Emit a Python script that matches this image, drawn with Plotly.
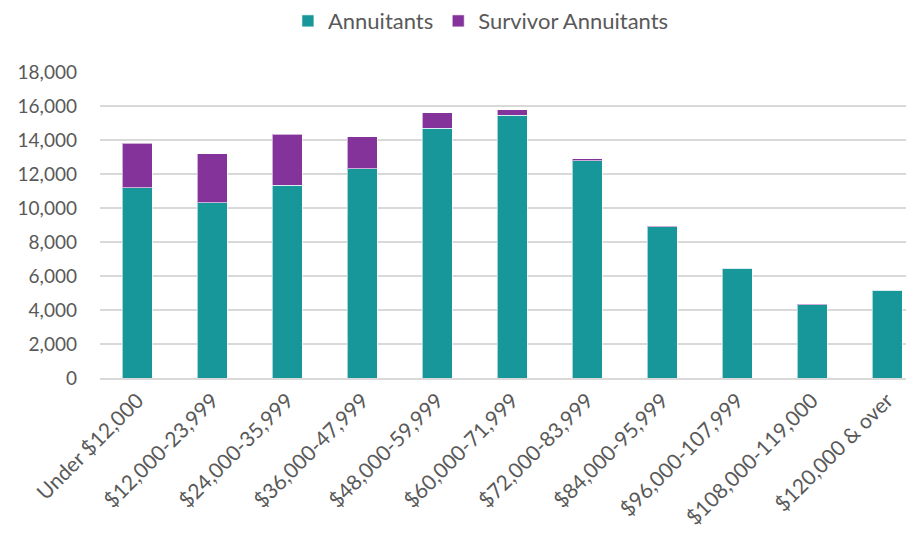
import plotly.graph_objects as go

categories = ["Under $12,000", "$12,000-23,999", "$24,000-35,999", "$36,000-47,999",
              "$48,000-59,999", "$60,000-71,999", "$72,000-83,999", "$84,000-95,999",
              "$96,000-107,999", "$108,000-119,000", "$120,000 & over"]
annuitants = [11200, 10300, 11350, 12300, 14700, 15450, 12780, 8900, 6470, 4320, 5150]
survivors = [2600, 2900, 3000, 1880, 900, 330, 120, 50, 20, 10, 10]

teal = "#18979B"
purple = "#84339A"
txt = "#595959"

fig = go.Figure()
fig.add_trace(go.Bar(x=categories, y=annuitants, name="Annuitants",
                     marker=dict(color=teal, line=dict(color="rgba(255,255,255,0.6)", width=1))))
fig.add_trace(go.Bar(x=categories, y=survivors, name="Survivor Annuitants",
                     marker=dict(color=purple, line=dict(color="rgba(255,255,255,0.6)", width=1))))

# page body has an 8px default margin, so the figure is sized to fit the window
fig.update_layout(
    barmode="stack",
    bargap=0.6,
    width=906, height=528,
    margin=dict(l=92, r=0, t=64, b=158, autoexpand=False),
    plot_bgcolor="white", paper_bgcolor="white",
    font=dict(family="Lato, Open Sans, sans-serif", size=20, color=txt),
    showlegend=True,
    legend=dict(orientation="h", xref="container", yref="paper",
                x=0.522, xanchor="center", y=1.235, yanchor="top",
                font=dict(size=22, color=txt), itemwidth=30, traceorder="normal"),
)
fig.update_xaxes(range=[-0.5, 10.36], tickangle=-45, showgrid=False,
                 showline=True, linecolor="#d9d9d9", linewidth=2,
                 tickfont=dict(size=21, color=txt), ticks="")
fig.update_yaxes(range=[0, 18000], dtick=2000, tickformat=",d",
                 showgrid=True, gridcolor="#d9d9d9", gridwidth=2,
                 zeroline=False, showline=False,
                 tickfont=dict(size=19, color=txt), ticklabelstandoff=22)

fig.write_html("out.html")
